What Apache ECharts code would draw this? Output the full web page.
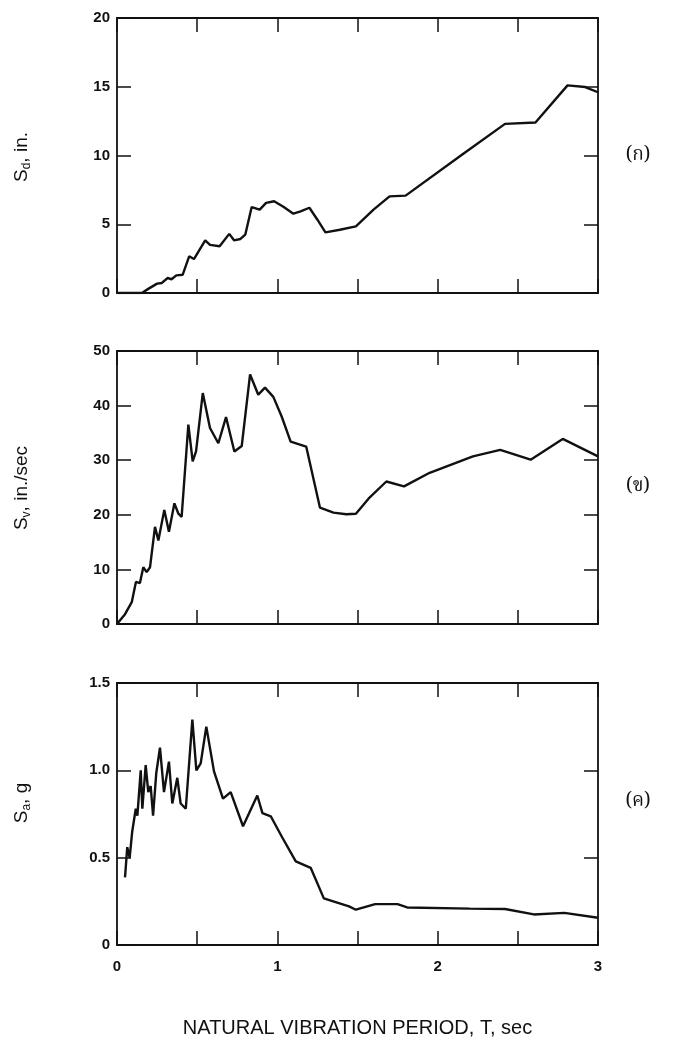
<!DOCTYPE html>
<html>
<head>
<meta charset="utf-8">
<script src="https://cdn.jsdelivr.net/npm/echarts@6/dist/echarts.min.js"></script>
<style>
  html, body { margin: 0; padding: 0; background: #fff; }
  #main { width: 673px; height: 1039px; }
</style>
</head>
<body>
<div id="main"></div>
<script>
// period axis, sec
var xTicks = ['0', '1', '2', '3'];

// (ก) displacement spectrum, in.
var sdPeriod = [0, 0.155, 0.195, 0.25, 0.28, 0.316, 0.34, 0.37, 0.41, 0.45, 0.48, 0.55, 0.58, 0.64, 0.70, 0.73, 0.77, 0.80,
  0.84, 0.89, 0.93, 0.98, 1.04, 1.10, 1.145, 1.20, 1.25, 1.30, 1.39, 1.49, 1.60, 1.70, 1.80, 2.16, 2.42, 2.61, 2.81, 2.92, 3.0];
var sdValues = [0, 0, 0.3, 0.68, 0.73, 1.09, 1.0, 1.28, 1.33, 2.67, 2.47, 3.83, 3.5, 3.4, 4.3, 3.83, 3.93, 4.24,
  6.25, 6.06, 6.55, 6.67, 6.25, 5.77, 5.94, 6.2, 5.33, 4.41, 4.6, 4.85, 6.06, 7.03, 7.08, 10.13, 12.3, 12.4, 15.1, 14.98, 14.6];

// (ข) velocity spectrum, in./sec
var svPeriod = [0, 0.05, 0.092, 0.1, 0.118, 0.143, 0.164, 0.185, 0.206, 0.237, 0.258, 0.295, 0.324, 0.358, 0.383, 0.403,
  0.445, 0.472, 0.493, 0.535, 0.58, 0.632, 0.68, 0.732, 0.778, 0.83, 0.881, 0.923, 0.975, 1.027, 1.083, 1.18, 1.266,
  1.35, 1.43, 1.49, 1.57, 1.68, 1.79, 1.95, 2.22, 2.39, 2.58, 2.78, 3.0];
var svValues = [0, 1.8, 4.0, 4.3, 7.7, 7.5, 10.4, 9.5, 10.4, 17.8, 15.3, 20.9, 16.9, 22.1, 20.2, 19.6,
  36.5, 29.8, 31.6, 42.3, 35.9, 33.1, 37.9, 31.6, 32.6, 45.7, 42.0, 43.3, 41.6, 38.0, 33.4, 32.5, 21.3,
  20.4, 20.1, 20.2, 23.0, 26.1, 25.2, 27.7, 30.7, 31.9, 30.1, 33.9, 30.7];

// (ค) acceleration spectrum, g
var saPeriod = [0.05, 0.064, 0.079, 0.095, 0.117, 0.127, 0.148, 0.158, 0.179, 0.195, 0.21, 0.225, 0.245, 0.268, 0.293,
  0.324, 0.345, 0.376, 0.397, 0.429, 0.47, 0.495, 0.522, 0.557, 0.605, 0.661, 0.709, 0.786, 0.875, 0.907, 0.959,
  1.03, 1.115, 1.208, 1.29, 1.447, 1.49, 1.61, 1.75, 1.81, 2.2, 2.42, 2.6, 2.79, 3.0];
var saValues = [0.387, 0.56, 0.50, 0.65, 0.78, 0.74, 1.0, 0.78, 1.03, 0.875, 0.91, 0.74, 0.985, 1.13, 0.875,
  1.05, 0.81, 0.957, 0.81, 0.78, 1.29, 1.0, 1.04, 1.25, 0.994, 0.838, 0.875, 0.68, 0.856, 0.755, 0.737,
  0.617, 0.479, 0.442, 0.267, 0.221, 0.202, 0.234, 0.234, 0.215, 0.208, 0.206, 0.175, 0.184, 0.156];

var panelTags = ['(ก)', '(ข)', '(ค)'];
var yTitles = [['S', 'd', ', in.'], ['S', 'v', ', in./sec'], ['S', 'a', ', g']];

function zip(xs, ys) {
    var out = [];
    for (var i = 0; i < xs.length; i++) out.push([xs[i], ys[i]]);
    return out;
}

var FONT = 'Liberation Sans, Arial, sans-serif';
var THAI = '"Noto Serif Thai", "Noto Sans Thai", "DejaVu Serif", serif';
var INK = '#111';

// grid boxes (px)
var grids = [
    { left: 117, right: 75, top: 18, height: 275 },
    { left: 117, right: 75, top: 351, height: 273 },
    { left: 117, right: 75, top: 683, height: 272 }
];
var yMax = [20, 50, 1.5];
var yStep = [5, 10, 0.5];
// vertical centre of y titles and panel tags
var titleY = [157, 488, 803];

var lineCommon = { show: true, onZero: false, lineStyle: { color: INK, width: 1.8 } };
var tickCommon = { show: true, inside: true, length: 14, lineStyle: { color: INK, width: 1.5 } };

var xAxis = [], yAxis = [], graphics = [];
for (var g = 0; g < 3; g++) {
    var isBottom = (g === 2);
    // bottom edge
    xAxis.push({
        type: 'value', gridIndex: g, min: 0, max: 3, interval: 0.5, position: 'bottom',
        axisLine: lineCommon, axisTick: tickCommon, splitLine: { show: false },
        axisLabel: {
            show: isBottom, margin: 14, color: INK, fontFamily: FONT, fontSize: 15, fontWeight: 'bold',
            formatter: function(v) {
                var idx = xTicks.indexOf(String(v));
                return idx >= 0 ? xTicks[idx] : '';
            }
        },
        name: isBottom ? 'NATURAL VIBRATION PERIOD, T, sec' : '',
        nameLocation: 'middle', nameGap: 73,
        nameTextStyle: { color: INK, fontFamily: FONT, fontSize: 20 }
    });
    // top edge
    xAxis.push({
        type: 'value', gridIndex: g, min: 0, max: 3, interval: 0.5, position: 'top',
        axisLine: lineCommon, axisTick: tickCommon, splitLine: { show: false },
        axisLabel: { show: false }
    });
    // left edge
    yAxis.push({
        type: 'value', gridIndex: g, min: 0, max: yMax[g], interval: yStep[g], position: 'left',
        axisLine: lineCommon, axisTick: tickCommon, splitLine: { show: false },
        axisLabel: {
            margin: 7, color: INK, fontFamily: FONT, fontSize: 15, fontWeight: 'bold',
            formatter: (function(gi) {
                return function(v) {
                    if (gi === 2) return v === 0 ? '0' : v.toFixed(1);
                    return String(v);
                };
            })(g)
        }
    });
    // right edge
    yAxis.push({
        type: 'value', gridIndex: g, min: 0, max: yMax[g], interval: yStep[g], position: 'right',
        axisLine: lineCommon, axisTick: tickCommon, splitLine: { show: false },
        axisLabel: { show: false }
    });

    // rotated y title with subscript
    graphics.push({
        type: 'text', x: 22, y: titleY[g], rotation: Math.PI / 2,
        style: {
            text: '{s|' + yTitles[g][0] + '}{b|' + yTitles[g][1] + '}{s|' + yTitles[g][2] + '}',
            align: 'center', verticalAlign: 'middle',
            rich: {
                s: { fontSize: 19, fontFamily: FONT, fill: INK },
                b: { fontSize: 12, fontFamily: FONT, fill: INK, verticalAlign: 'bottom', padding: [9, 0, 0, 0] }
            }
        }
    });
    // panel tag
    graphics.push({
        type: 'text', x: 638, y: titleY[g],
        style: { text: panelTags[g], font: '19px ' + THAI, fill: INK, align: 'center', verticalAlign: 'middle' }
    });
}

var chart = echarts.init(document.getElementById('main'));
chart.setOption({
    animation: false,
    backgroundColor: '#fff',
    grid: grids,
    xAxis: xAxis,
    yAxis: yAxis,
    graphic: graphics,
    series: [
        { type: 'line', xAxisIndex: 0, yAxisIndex: 0, data: zip(sdPeriod, sdValues), showSymbol: false, lineStyle: { color: INK, width: 2.4 } },
        { type: 'line', xAxisIndex: 2, yAxisIndex: 2, data: zip(svPeriod, svValues), showSymbol: false, lineStyle: { color: INK, width: 2.4 } },
        { type: 'line', xAxisIndex: 4, yAxisIndex: 4, data: zip(saPeriod, saValues), showSymbol: false, lineStyle: { color: INK, width: 2.4 } }
    ]
});
</script>
</body>
</html>
